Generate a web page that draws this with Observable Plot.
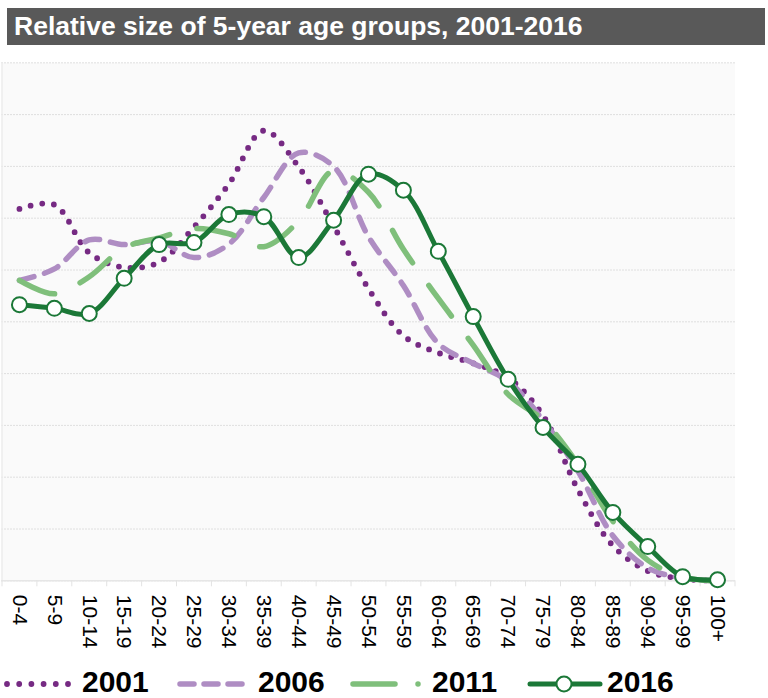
<!DOCTYPE html>
<html>
<head>
<meta charset="utf-8">
<script src="https://cdn.jsdelivr.net/npm/d3@7"></script>
<script src="https://cdn.jsdelivr.net/npm/@observablehq/plot@0.6"></script>
<style>
  html, body { margin: 0; padding: 0; background: #fff; }
  #wrap { position: relative; width: 768px; height: 698px; font-family: "Liberation Sans", Arial, sans-serif; }
  #title { position: absolute; left: 7px; top: 8px; width: 758px; height: 37px; background: #595959; color: #fff;
           font-weight: bold; font-size: 26.5px; line-height: 37px; padding-left: 7px; box-sizing: border-box; white-space: nowrap; }
  #chart { position: absolute; left: 0; top: 45px; }
  #chart text.agelab { font-size: 21px; }
  .sw { position: absolute; top: 672px; }
  .lab { position: absolute; top: 664px; font-weight: bold; font-size: 30px; line-height: 36px; color: #000; }
</style>
</head>
<body>
<div id="wrap">
  <div id="title">Relative size of 5-year age groups, 2001-2016</div>
  <div id="chart"></div>
  <div id="legend"></div>
</div>
<script>
const ages = ["0-4","5-9","10-14","15-19","20-24","25-29","30-34","35-39","40-44","45-49","50-54",
              "55-59","60-64","65-69","70-74","75-79","80-84","85-89","90-94","95-99","100+"];
const years = ["2001","2006","2011","2016"];
const v2001 = [7.18,7.26,6.33,6.05,6.15,6.83,7.66,8.69,7.99,6.85,5.64,4.73,4.40,4.20,3.92,3.19,1.76,0.68,0.19,0.04,0.00];
const v2006 = [5.80,6.02,6.58,6.49,6.56,6.24,6.50,7.40,8.26,8.00,6.64,5.70,4.58,4.20,3.85,3.10,2.12,0.87,0.25,0.05,0.00];
const v2011 = [5.80,5.54,5.87,6.43,6.62,6.80,6.70,6.45,6.95,7.92,7.50,6.40,5.45,4.55,3.60,3.10,2.25,1.15,0.40,0.07,0.00];
const v2016 = [5.33,5.26,5.16,5.84,6.49,6.53,7.07,7.03,6.24,6.96,7.85,7.54,6.36,5.10,3.89,2.96,2.25,1.32,0.66,0.08,0.02];

const colors = {"2001": "#762a83", "2006": "#af8dc3", "2011": "#7fbf7b", "2016": "#1b7837"};

const idx = ages.map((a, i) => i);
const edges = ages.map((a, i) => i - 0.5).concat([ages.length - 0.5]);
const gridTicks = d3.range(0, 11);

const X = (d, i) => i;
const Y = d => d;

const chart = Plot.plot({
  width: 768,
  height: 605,
  marginTop: 17.3,
  marginBottom: 69.7,
  marginLeft: 1.5,
  marginRight: 33.5,
  x: {type: "linear", domain: [-0.5, ages.length - 0.5], axis: null},
  y: {domain: [0, 10], axis: null},
  style: {fontFamily: "Liberation Sans, Arial, sans-serif", background: "transparent", overflow: "visible"},
  marks: [
    Plot.frame({fill: "#fafafa", stroke: null}),
    Plot.gridY(gridTicks, {stroke: "#c4c4c4", strokeOpacity: 1, strokeDasharray: "1 2"}),
    Plot.ruleX([-0.5], {stroke: "#ececec", strokeWidth: 1.5}),
    Plot.ruleY([0], {stroke: "#e6e6e6", strokeWidth: 1.5}),
    Plot.axisX(edges, {tickSize: 6, stroke: "#e3e3e3", strokeOpacity: 1, tickFormat: () => ""}),
    Plot.text(idx, {x: d => d, frameAnchor: "bottom", text: d => ages[d], rotate: 90, textAnchor: "start",
                    lineAnchor: "middle", dy: 14, fontSize: 21, fill: "#000"}),
    Plot.line(v2001, {x: X, y: Y, stroke: colors["2001"], strokeWidth: 5.8, strokeDasharray: "0 11.7", strokeLinecap: "round", curve: "catmull-rom"}),
    Plot.line(v2006, {x: X, y: Y, stroke: colors["2006"], strokeWidth: 5.5, strokeDasharray: "15 11", strokeLinecap: "round", curve: "catmull-rom"}),
    Plot.line(v2011, {x: X, y: Y, stroke: colors["2011"], strokeWidth: 5.5, strokeDasharray: "38 28", strokeLinecap: "round", curve: "catmull-rom"}),
    Plot.line(v2016, {x: X, y: Y, stroke: colors["2016"], strokeWidth: 5, strokeLinecap: "round", curve: "catmull-rom"}),
    Plot.dot(v2016, {x: X, y: Y, r: 7.5, fill: "#fff", stroke: colors["2016"], strokeWidth: 2})
  ]
});
document.getElementById("chart").appendChild(chart);

// Legend
const legend = document.getElementById("legend");
const items = [
  {year: "2001", sx: 2, sw: 72, tx: 82, dash: "0 12.2", marker: false, w: 5.8},
  {year: "2006", sx: 175, sw: 75, tx: 258, dash: "14 10", marker: false, w: 5.5},
  {year: "2011", sx: 348, sw: 80, tx: 432, dash: "42 23 0 20", marker: false, w: 5.5},
  {year: "2016", sx: 525, sw: 80, tx: 607, dash: null, marker: true, w: 5}
];
const ns = "http://www.w3.org/2000/svg";
items.forEach(it => {
  const svg = document.createElementNS(ns, "svg");
  svg.setAttribute("width", it.sw);
  svg.setAttribute("height", 24);
  svg.setAttribute("class", "sw");
  svg.style.left = it.sx + "px";
  const line = document.createElementNS(ns, "line");
  line.setAttribute("x1", 5); line.setAttribute("x2", it.sw - 5);
  line.setAttribute("y1", 12); line.setAttribute("y2", 12);
  line.setAttribute("stroke", colors[it.year]);
  line.setAttribute("stroke-width", it.w);
  line.setAttribute("stroke-linecap", "round");
  if (it.dash) line.setAttribute("stroke-dasharray", it.dash);
  svg.appendChild(line);
  if (it.marker) {
    const c = document.createElementNS(ns, "circle");
    c.setAttribute("cx", it.sw / 2 - 1); c.setAttribute("cy", 12); c.setAttribute("r", 7.5);
    c.setAttribute("fill", "#fff"); c.setAttribute("stroke", colors[it.year]); c.setAttribute("stroke-width", 2);
    svg.appendChild(c);
  }
  legend.appendChild(svg);
  const t = document.createElement("div");
  t.className = "lab";
  t.style.left = it.tx + "px";
  t.textContent = it.year;
  legend.appendChild(t);
});
</script>
</body>
</html>
